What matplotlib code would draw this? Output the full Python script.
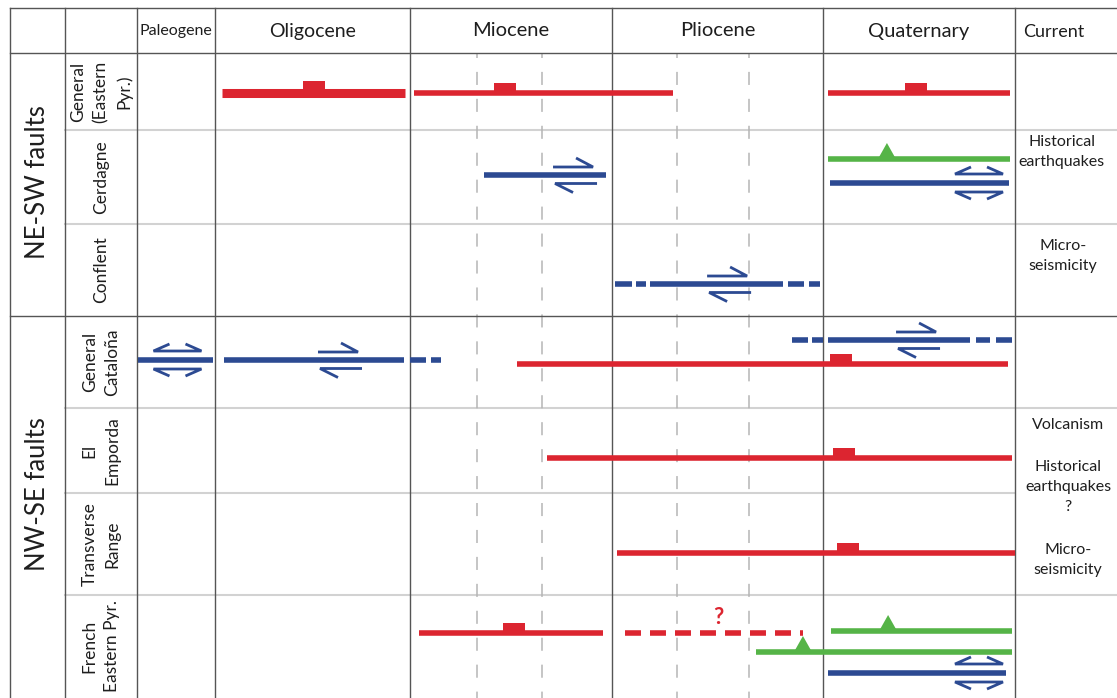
import numpy as np
import matplotlib
matplotlib.use("Agg")
import matplotlib.pyplot as plt
import matplotlib.transforms as mtrans
from matplotlib.patches import Polygon

plt.rcParams['font.family'] = ['Lato', 'DejaVu Sans']
plt.rcParams['lines.scale_dashes'] = False

# ---- data (x in epoch units: one column = one unit, 0 = start of Paleogene column)
epochs = ['Paleogene', 'Oligocene', 'Miocene', 'Pliocene', 'Quaternary']
groups = ['NE-SW faults', 'NW-SE faults']
faults = ['General\n(Eastern\nPyr.)', 'Cerdagne', 'Conflent', 'General\nCataloña',
          'El\nEmporda', 'Transverse\nRange', 'French\nEastern Pyr.']
fault_group = [0, 0, 0, 1, 1, 1, 1]
sub_bounds = [2.332, 2.653, 3.308, 3.649]
notes = ['Historical\nearthquakes', 'Micro-\nseismicity', 'Volcanism',
         'Historical\nearthquakes\n?', 'Micro-\nseismicity']

bar_row = [0, 0, 0, 1, 1, 1, 2, 3, 3, 3, 3, 4, 5, 6, 6, 6, 6, 6]
bar_kind = ['normal', 'normal', 'normal', 'strike', 'thrust', 'double', 'strike',
            'double', 'strike', 'normal', 'strike', 'normal', 'normal', 'normal',
            'uncertain', 'thrust', 'thrust', 'double']
bar_segs = [
    [(1.036, 1.974)],
    [(2.020, 3.289)],
    [(4.026, 4.974)],
    [(2.366, 2.970)],
    [(4.026, 4.974)],
    [(4.036, 4.969)],
    [(3.014, 3.095), (3.114, 3.161), (3.180, 3.810), (3.834, 3.910), (3.934, 3.986)],
    [(0.013, 0.974)],
    [(1.046, 1.969), (2.000, 2.079), (2.104, 2.153)],
    [(2.530, 4.964)],
    [(3.853, 3.929), (3.948, 4.000), (4.026, 4.766), (4.797, 4.870), (4.901, 4.984)],
    [(2.678, 4.984)],
    [(3.024, 5.000)],
    [(2.045, 2.955)],
    [(3.062, 3.905)],
    [(4.042, 4.984)],
    [(3.682, 4.984)],
    [(4.026, 4.953)],
]
bar_sym = [1.508, 2.470, 4.484, 2.817, 4.333, 4.8125, 3.555, 0.519, 1.641, 4.094,
           4.495, 4.109, 4.130, 2.515, 3.502, 4.339, 3.905, 4.8125]

# ---- layout (pixels)
col_ep = [-3, -2, -1, 0, 1, 2, 3, 4, 5, 6]
col_px = [0, 10, 65, 137, 215, 410, 612, 823, 1015, 1117]
row_px = [8, 53, 130, 224, 316, 408, 493, 595, 698]
bar_y = [93, 93, 93, 175, 159, 183, 284, 360, 360, 364, 340, 458, 553, 633, 633, 631, 652, 673]
bar_lw = [6.5] + [4.0] * 17
note_x = [5.46, 5.47, 5.52, 5.52, 5.52]
note_y = [152, 256, 425, 487, 560]
group_y = [182, 494]

RED = '#dc2530'
BLUE = '#2c4a92'
GREEN = '#55b447'
DARK = '#555555'
LIGHT = '#d2d2d2'
TXT = '#1e1e1e'
kind_color = {'normal': RED, 'uncertain': RED, 'strike': BLUE, 'double': BLUE, 'thrust': GREEN}

fig = plt.figure(figsize=(11.17, 6.98), dpi=100)
ax = fig.add_axes([0, 0, 1, 1])
fwd = lambda x: np.interp(x, col_ep, col_px)
inv = lambda p: np.interp(p, col_px, col_ep)
ax.set_xscale('function', functions=(fwd, inv))
ax.axis('off')


def sym_trans(x, y):
    # local shape in pixels (y down) anchored at data point (x, y)
    return mtrans.Affine2D().scale(1, -1) + mtrans.ScaledTranslation(x, y, ax.transData)


# table lines
for k in [2, 3, 5, 7]:
    ax.plot([-1, 6], [row_px[k], row_px[k]], color=LIGHT, lw=1.5, zorder=1)
ax.plot([-1, 5], [row_px[6], row_px[6]], color=LIGHT, lw=1.5, zorder=1)
for k in [0, 1, 4]:
    ax.plot([-2, 6], [row_px[k], row_px[k]], color=DARK, lw=1.0, zorder=2)
for e in [-2, -1, 0, 1, 2, 3, 4, 5]:
    ax.plot([e, e], [row_px[0], row_px[-1]], color=DARK, lw=1.0, zorder=2)
for b in sub_bounds:
    ax.plot([b, b], [row_px[1], row_px[-1]], color='#b5b5b5', lw=1.1,
            linestyle=(5.8, (9.4, 10.0)), zorder=1.5)

# header
hsize = [11.5, 14, 14.5, 14.5, 14.5]
for i, name in enumerate(epochs):
    ax.text(i + 0.5, 31, name, ha='center', va='center', fontsize=hsize[i], color=TXT)
ax.text(5.38, 32, 'Current', ha='center', va='center', fontsize=13, color=TXT)

# left labels
for g, name in enumerate(groups):
    ax.text(-1.5, group_y[g], name, rotation=90, ha='center', va='center',
            fontsize=18.5, color=TXT)
for i, name in enumerate(faults):
    yc = (row_px[i + 1] + row_px[i + 2]) / 2
    ax.text(-0.5, yc, name, rotation=90, ha='center', va='center', fontsize=12.5,
            color=TXT, linespacing=1.5)

# current column notes
for x, y, t in zip(note_x, note_y, notes):
    ax.text(x, y, t, ha='center', va='center', fontsize=11.5, color=TXT, linespacing=1.55)

# fault bars and symbols
for i in range(len(bar_row)):
    c = kind_color[bar_kind[i]]
    y = bar_y[i]
    lw = bar_lw[i]
    for s, e in bar_segs[i]:
        if bar_kind[i] == 'uncertain':
            ax.plot([s, e], [y, y], color=c, lw=lw, solid_capstyle='butt',
                    dash_capstyle='butt', linestyle=(0, (11.5, 6.5)), zorder=4)
        else:
            ax.plot([s, e], [y, y], color=c, lw=lw, solid_capstyle='butt', zorder=4)
    tr = sym_trans(bar_sym[i], y)
    k = bar_kind[i]
    hw = lw / 0.72 / 2
    if k == 'normal':
        ax.add_patch(Polygon([(-11, 0), (11, 0), (11, -hw - 7), (-11, -hw - 7)],
                             closed=True, color=c, lw=0, transform=tr, zorder=4))
    elif k == 'thrust':
        ax.add_patch(Polygon([(-9, 0), (9, 0), (0, -16)], closed=True, color=c, lw=0,
                             transform=tr, zorder=4))
    elif k == 'strike':
        ax.plot([-22, 18, 1], [-8, -8, -17], color=c, lw=2.0, transform=tr, zorder=4,
                solid_capstyle='butt', solid_joinstyle='miter')
        ax.plot([22, -20, -2], [8.5, 8.5, 17.5], color=c, lw=2.0, transform=tr, zorder=4,
                solid_capstyle='butt', solid_joinstyle='miter')
    elif k == 'double':
        ax.plot([-8, -24, 24, 8], [-16, -9, -9, -16], color=c, lw=2.0, transform=tr,
                zorder=4, solid_capstyle='butt', solid_joinstyle='miter')
        ax.plot([-8, -24, 24, 8], [16, 9, 9, 16], color=c, lw=2.0, transform=tr,
                zorder=4, solid_capstyle='butt', solid_joinstyle='miter')
    elif k == 'uncertain':
        ax.text(bar_sym[i], y - 16, '?', ha='center', va='center', fontsize=16,
                fontweight='bold', color=c, zorder=4)

ax.set_xlim(-3, 6)
ax.set_ylim(698, 0)
fig.savefig('out.png', dpi=100)
